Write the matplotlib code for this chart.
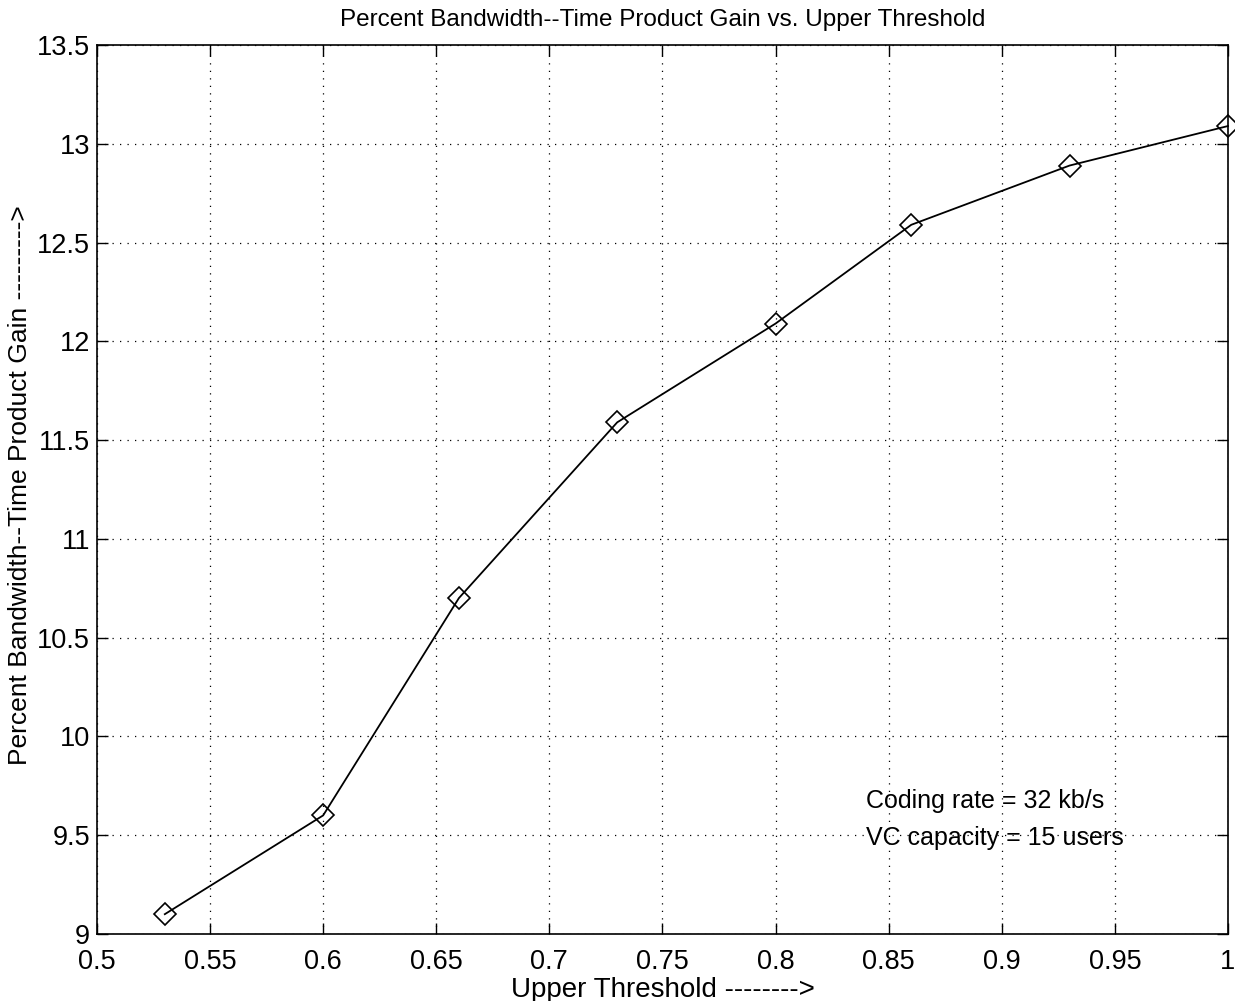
import matplotlib
matplotlib.use("Agg")
import matplotlib.pyplot as plt

plt.rcParams["font.family"] = ["Liberation Sans", "DejaVu Sans"]

# Upper threshold vs percent bandwidth-time product gain
threshold = [0.53, 0.60, 0.66, 0.73, 0.80, 0.86, 0.93, 1.00]
gain = [9.10, 9.60, 10.70, 11.59, 12.09, 12.59, 12.89, 13.09]

x_ticks = [0.5, 0.55, 0.6, 0.65, 0.7, 0.75, 0.8, 0.85, 0.9, 0.95, 1]
x_labels = ["0.5", "0.55", "0.6", "0.65", "0.7", "0.75", "0.8", "0.85", "0.9", "0.95", "1"]
y_ticks = [9, 9.5, 10, 10.5, 11, 11.5, 12, 12.5, 13, 13.5]
y_labels = ["9", "9.5", "10", "10.5", "11", "11.5", "12", "12.5", "13", "13.5"]

fig = plt.figure(figsize=(12.35, 10.01), dpi=100)
ax = fig.add_axes([0.0785, 0.067, 0.9158, 0.888])

ax.plot(threshold, gain, color="black", linewidth=1.3, marker="D",
        markersize=11, markerfacecolor="none", markeredgecolor="black",
        markeredgewidth=1.2, clip_on=False, zorder=3)

ax.set_xlim(0.5, 1.0)
ax.set_ylim(9, 13.5)
ax.set_xticks(x_ticks)
ax.set_xticklabels(x_labels)
ax.set_yticks(y_ticks)
ax.set_yticklabels(y_labels)
ax.tick_params(direction="in", length=8, width=1, labelsize=19.5,
               top=True, right=True)
ax.tick_params(axis="x", pad=11)
ax.tick_params(axis="y", pad=5)
ax.grid(True, linestyle=(0, (1, 5)), color="black", linewidth=0.9)
for s in ax.spines.values():
    s.set_linewidth(1.2)

ax.set_title("Percent Bandwidth--Time Product Gain vs. Upper Threshold",
             fontsize=17.5, pad=14)
ax.set_xlabel("Upper Threshold -------->", fontsize=20, labelpad=1)
ax.set_ylabel("Percent Bandwidth--Time Product Gain --------->", fontsize=19)
ax.yaxis.set_label_coords(-0.057, 0.505)

ax.text(0.84, 9.673, "Coding rate = 32 kb/s", fontsize=18, va="center")
ax.text(0.84, 9.486, "VC capacity = 15 users", fontsize=18, va="center")

fig.savefig("out.png", dpi=100)
